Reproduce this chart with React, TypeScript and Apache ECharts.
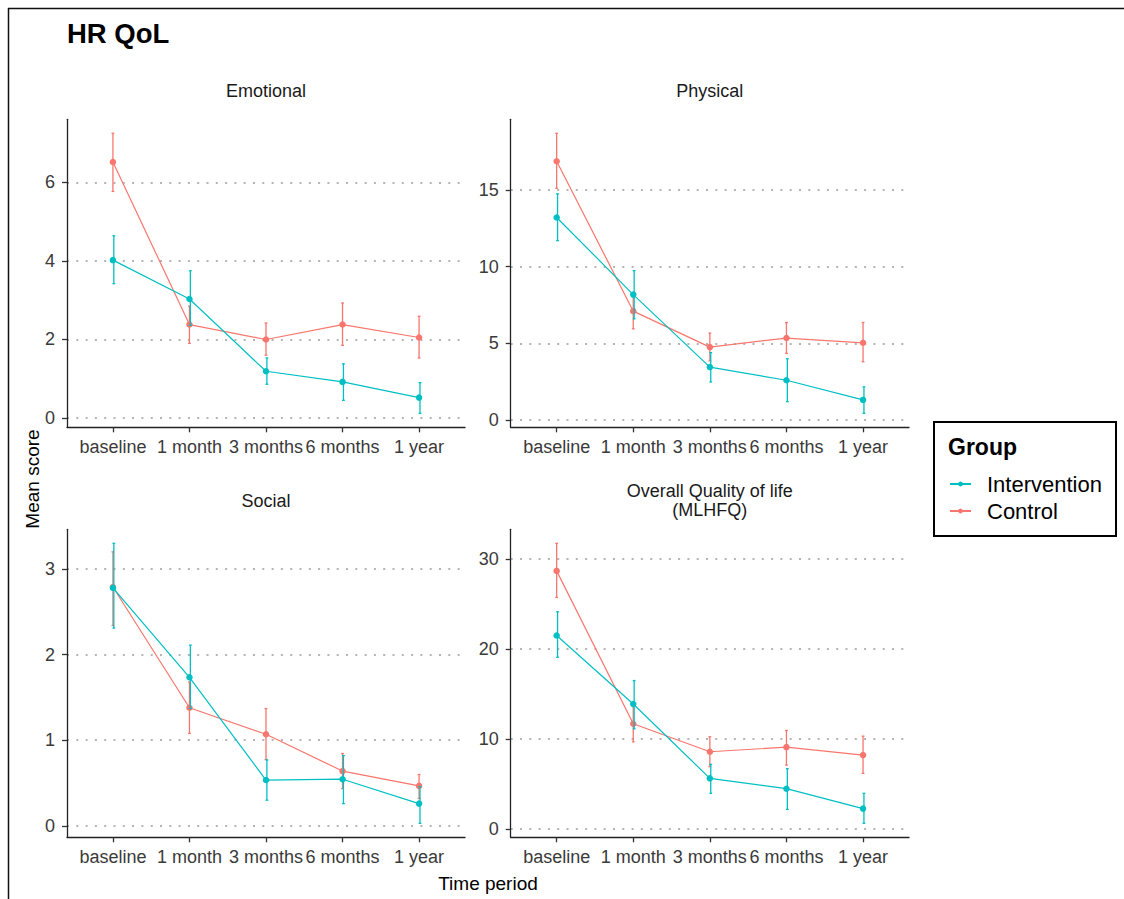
import React, { useEffect, useRef } from 'react';
import * as echarts from 'echarts';

const categories = ['baseline', '1 month', '3 months', '6 months', '1 year'];
const groupNames = ['Intervention', 'Control'];
const panelTitles = ['Emotional', 'Physical', 'Social', 'Overall Quality of life\n(MLHFQ)'];

// Emotional
const emoIntMean = [4.02, 3.03, 1.19, 0.92, 0.52];
const emoIntLow = [3.42, 2.36, 0.86, 0.45, 0.12];
const emoIntHigh = [4.64, 3.75, 1.53, 1.38, 0.9];
const emoCtrlMean = [6.52, 2.38, 2.0, 2.38, 2.05];
const emoCtrlLow = [5.77, 1.9, 1.6, 1.85, 1.53];
const emoCtrlHigh = [7.25, 2.85, 2.42, 2.93, 2.59];

// Physical
const phyIntMean = [13.2, 8.18, 3.46, 2.6, 1.32];
const phyIntLow = [11.69, 6.6, 2.49, 1.21, 0.45];
const phyIntHigh = [14.74, 9.74, 4.4, 4.0, 2.17];
const phyCtrlMean = [16.86, 7.1, 4.76, 5.35, 5.04];
const phyCtrlLow = [15.1, 5.95, 3.87, 4.35, 3.81];
const phyCtrlHigh = [18.68, 8.3, 5.67, 6.36, 6.36];

// Social
const socIntMean = [2.78, 1.735, 0.535, 0.545, 0.26];
const socIntLow = [2.31, 1.37, 0.3, 0.26, 0.03];
const socIntHigh = [3.3, 2.11, 0.77, 0.82, 0.46];
const socCtrlMean = [2.79, 1.38, 1.07, 0.64, 0.467];
const socCtrlLow = [2.34, 1.08, 0.775, 0.435, 0.32];
const socCtrlHigh = [3.2, 1.68, 1.37, 0.845, 0.6];

// Overall Quality of life (MLHFQ)
const ovrIntMean = [21.5, 13.9, 5.65, 4.5, 2.29];
const ovrIntLow = [19.08, 11.14, 3.99, 2.21, 0.66];
const ovrIntHigh = [24.13, 16.5, 7.2, 6.72, 3.99];
const ovrCtrlMean = [28.67, 11.7, 8.6, 9.11, 8.23];
const ovrCtrlLow = [25.72, 9.7, 6.94, 7.12, 6.2];
const ovrCtrlHigh = [31.73, 13.6, 10.26, 10.96, 10.33];

const emoTicks = [0, 2, 4, 6];
const phyTicks = [0, 5, 10, 15];
const socTicks = [0, 1, 2, 3];
const ovrTicks = [0, 10, 20, 30];

const COLORS: Record<string, string> = { Intervention: '#00BFC4', Control: '#F8766D' };
const FONT = '"Liberation Sans", Arial, sans-serif';

const panels = [
  { title: panelTitles[0], ticks: emoTicks, Intervention: [emoIntMean, emoIntLow, emoIntHigh], Control: [emoCtrlMean, emoCtrlLow, emoCtrlHigh] },
  { title: panelTitles[1], ticks: phyTicks, Intervention: [phyIntMean, phyIntLow, phyIntHigh], Control: [phyCtrlMean, phyCtrlLow, phyCtrlHigh] },
  { title: panelTitles[2], ticks: socTicks, Intervention: [socIntMean, socIntLow, socIntHigh], Control: [socCtrlMean, socCtrlLow, socCtrlHigh] },
  { title: panelTitles[3], ticks: ovrTicks, Intervention: [ovrIntMean, ovrIntLow, ovrIntHigh], Control: [ovrCtrlMean, ovrCtrlLow, ovrCtrlHigh] },
];

const gridBoxes = [
  { left: 67, top: 119.3, width: 398, height: 308 },
  { left: 510.7, top: 119.3, width: 398.3, height: 308 },
  { left: 67, top: 529.3, width: 398, height: 308 },
  { left: 510.7, top: 529.3, width: 398.3, height: 308 },
];

const catPositions = categories.map((_, i) => i + 1);

function buildOption() {
  const xAxes: any[] = [];
  const yAxes: any[] = [];
  const lineSeries: any[] = [];
  const errSeries: any[] = [];
  const graphics: any[] = [];

  panels.forEach((p, pi) => {
    const all = [...p.Intervention[1], ...p.Intervention[2], ...p.Control[1], ...p.Control[2]];
    const lo = Math.min(...all);
    const hi = Math.max(...all);
    const pad = (hi - lo) * 0.05;

    xAxes.push({
      type: 'value',
      gridIndex: pi,
      min: 0.4,
      max: 5.6,
      axisLine: { show: true, onZero: false, lineStyle: { color: '#222', width: 1.3 } },
      axisTick: { show: true, length: 5, customValues: catPositions, lineStyle: { color: '#333', width: 1.3 } },
      axisLabel: {
        show: true,
        customValues: catPositions,
        formatter: (v: number) => categories[Math.round(v) - 1] ?? '',
        margin: 11,
        fontSize: 18,
        fontFamily: FONT,
        color: '#3a3a3a',
      },
      splitLine: { show: false },
    });
    yAxes.push({
      type: 'value',
      gridIndex: pi,
      min: lo - pad,
      max: hi + pad,
      axisLine: { show: true, onZero: false, lineStyle: { color: '#222', width: 1.3 } },
      axisTick: { show: true, length: 5, customValues: p.ticks, lineStyle: { color: '#333', width: 1.3 } },
      axisLabel: { show: true, customValues: p.ticks, margin: 12, fontSize: 18, fontFamily: FONT, color: '#3a3a3a' },
      splitLine: { show: true, lineStyle: { type: [2, 7.3], color: '#b4b4b4', width: 2 } },
    });

    groupNames.forEach((g) => {
      const [mean, low, high] = (p as any)[g] as number[][];
      const color = COLORS[g];
      const z = g === 'Intervention' ? 4 : 3;
      lineSeries.push({
        type: 'line',
        name: g,
        xAxisIndex: pi,
        yAxisIndex: pi,
        data: mean.map((v, i) => [catPositions[i], v]),
        symbol: 'circle',
        symbolSize: 6.5,
        showSymbol: true,
        itemStyle: { color },
        lineStyle: { color, width: 1.2 },
        z,
        silent: true,
      });
      const shift = g === 'Intervention' ? 0.9 : 0;
      errSeries.push({
        type: 'custom',
        name: g,
        xAxisIndex: pi,
        yAxisIndex: pi,
        coordinateSystem: 'cartesian2d',
        data: low.map((v, i) => [catPositions[i], v, high[i]]),
        encode: { x: 0, y: [1, 2] },
        z,
        silent: true,
        renderItem: (_params: any, api: any) => {
          const x = api.value(0);
          const top = api.coord([x, api.value(2)]);
          const bot = api.coord([x, api.value(1)]);
          const cx = top[0] + shift;
          const cap = 1.4;
          const style = { stroke: color, lineWidth: 1.3, fill: 'none' };
          return {
            type: 'group',
            children: [
              { type: 'line', shape: { x1: cx, y1: top[1], x2: cx, y2: bot[1] }, style },
              { type: 'line', shape: { x1: cx - cap, y1: top[1], x2: cx + cap, y2: top[1] }, style },
              { type: 'line', shape: { x1: cx - cap, y1: bot[1], x2: cx + cap, y2: bot[1] }, style },
            ],
          };
        },
      });
    });

    const box = gridBoxes[pi];
    graphics.push({
      type: 'text',
      x: box.left + box.width / 2,
      y: pi < 2 ? 91 : 500.5,
      style: {
        text: p.title,
        fontSize: 18,
        fontFamily: FONT,
        fill: '#1a1a1a',
        align: 'center',
        verticalAlign: 'middle',
        lineHeight: 19,
      },
    });
  });

  // page frame (top and left edges)
  graphics.push({ type: 'line', shape: { x1: 8, y1: 8.5, x2: 1124, y2: 8.5 }, style: { stroke: '#111', lineWidth: 1.5 } });
  graphics.push({ type: 'line', shape: { x1: 8.5, y1: 8, x2: 8.5, y2: 899 }, style: { stroke: '#111', lineWidth: 1.5 } });

  graphics.push({
    type: 'text',
    x: 67,
    y: 33,
    style: { text: 'HR QoL', fontSize: 27.5, fontWeight: 'bold', fontFamily: FONT, fill: '#000', verticalAlign: 'middle' },
  });
  graphics.push({
    type: 'text',
    x: 32,
    y: 479,
    rotation: Math.PI / 2,
    style: { text: 'Mean score', fontSize: 19, fontFamily: FONT, fill: '#000', align: 'center', verticalAlign: 'middle' },
  });
  graphics.push({
    type: 'text',
    x: 488,
    y: 883,
    style: { text: 'Time period', fontSize: 19, fontFamily: FONT, fill: '#000', align: 'center', verticalAlign: 'middle' },
  });
  // legend box and title
  graphics.push({
    type: 'rect',
    shape: { x: 934, y: 422, width: 182, height: 114 },
    style: { fill: '#fff', stroke: '#000', lineWidth: 2 },
    z: -1,
  });
  graphics.push({
    type: 'text',
    x: 948,
    y: 447,
    style: { text: 'Group', fontSize: 23, fontWeight: 'bold', fontFamily: FONT, fill: '#000', verticalAlign: 'middle' },
  });

  return {
    animation: false,
    backgroundColor: '#fff',
    grid: gridBoxes.map((b) => ({ ...b })),
    xAxis: xAxes,
    yAxis: yAxes,
    legend: {
      show: true,
      data: groupNames,
      orient: 'vertical',
      left: 949,
      top: 473,
      padding: 0,
      itemWidth: 21,
      itemHeight: 6,
      itemGap: 5,
      selectedMode: false,
      textStyle: { fontSize: 22, fontFamily: FONT, color: '#000', lineHeight: 22, padding: [0, 0, 0, 11] },
    },
    series: [...lineSeries, ...errSeries],
    graphic: graphics,
  };
}

export default function App() {
  const ref = useRef<HTMLDivElement>(null);
  useEffect(() => {
    if (!ref.current) return;
    const chart = echarts.init(ref.current, undefined, { renderer: 'svg' });
    chart.setOption(buildOption() as any);
    return () => chart.dispose();
  }, []);
  return (
    <div
      ref={ref}
      style={{ position: 'absolute', left: 0, top: 0, width: 1124, height: 899, background: '#fff' }}
    />
  );
}
